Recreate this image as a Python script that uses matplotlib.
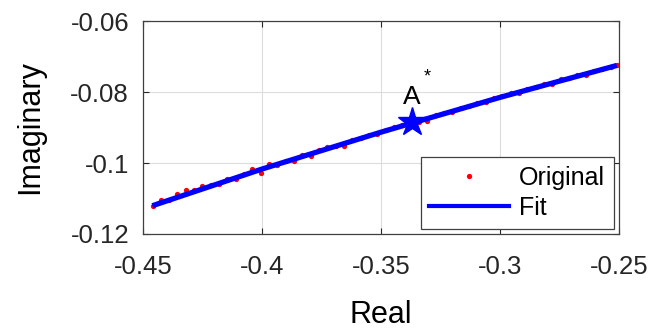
import matplotlib.pyplot as plt

plt.rcParams["font.family"] = ["Liberation Sans", "DejaVu Sans"]
plt.rcParams["axes.unicode_minus"] = False

# fitted curve
fit_x = [-0.445, -0.40, -0.35, -0.30, -0.252]
fit_y = [-0.1118, -0.1017, -0.0913, -0.0815, -0.0727]

# original measured points
orig_x = [-0.446, -0.4425, -0.439, -0.4355, -0.432, -0.4285, -0.425, -0.4215,
          -0.418, -0.4145, -0.411, -0.4075, -0.404, -0.4005, -0.397, -0.3935,
          -0.390, -0.3865, -0.383, -0.3795, -0.376, -0.3725, -0.369, -0.3655,
          -0.362, -0.3585, -0.355, -0.3515, -0.348, -0.3445, -0.341, -0.3375,
          -0.334, -0.3305, -0.327, -0.3235, -0.320, -0.3165, -0.313, -0.3095,
          -0.306, -0.3025, -0.299, -0.2955, -0.292, -0.2885, -0.285, -0.2815,
          -0.278, -0.2745, -0.271, -0.2675, -0.264, -0.2605, -0.257, -0.2535,
          -0.251]
orig_y = [-0.1120, -0.1104, -0.1103, -0.1087, -0.1077, -0.1077, -0.1065, -0.1062,
          -0.1060, -0.1044, -0.1044, -0.1032, -0.1018, -0.1028, -0.1004, -0.1005,
          -0.0995, -0.0994, -0.0977, -0.0980, -0.0964, -0.0954, -0.0951, -0.0951,
          -0.0934, -0.0929, -0.0920, -0.0918, -0.0907, -0.0898, -0.0893, -0.0885,
          -0.0884, -0.0883, -0.0864, -0.0858, -0.0855, -0.0844, -0.0839, -0.0831,
          -0.0828, -0.0818, -0.0811, -0.0803, -0.0804, -0.0792, -0.0786, -0.0778,
          -0.0777, -0.0764, -0.0761, -0.0752, -0.0751, -0.0740, -0.0734, -0.0729,
          -0.0724]

star_x = -0.337
star_y = -0.0885

xticks = [-0.45, -0.4, -0.35, -0.3, -0.25]
xtick_labels = ["-0.45", "-0.4", "-0.35", "-0.3", "-0.25"]
yticks = [-0.12, -0.1, -0.08, -0.06]
ytick_labels = ["-0.12", "-0.1", "-0.08", "-0.06"]

fig = plt.figure(figsize=(6.7, 3.29), dpi=100)
ax = fig.add_axes([0.2134, 0.2888, 0.7106, 0.6472])

ax.plot(orig_x, orig_y, "o", color="red", markersize=3.8, markeredgewidth=0,
        label="Original")
ax.plot(fit_x, fit_y, "-", color="blue", linewidth=3.8, label="Fit")
ax.plot(star_x, star_y, "*", color="blue", markersize=21)

ax.text(star_x, -0.0833, "A", fontsize=19, ha="center", va="baseline")
ax.text(-0.3305, -0.0758, "*", fontsize=13, ha="center", va="center")

ax.set_xlim(-0.45, -0.25)
ax.set_ylim(-0.12, -0.06)
ax.set_xticks(xticks)
ax.set_xticklabels(xtick_labels)
ax.set_yticks(yticks)
ax.set_yticklabels(ytick_labels)
ax.tick_params(direction="in", top=True, right=True, labelsize=18.5,
               colors="#262626", length=4)
ax.tick_params(axis="x", pad=15)
ax.tick_params(axis="y", pad=10)
ax.grid(True, color="#dcdcdc", linewidth=0.8)
ax.set_axisbelow(True)
for s in ax.spines.values():
    s.set_color("#404040")
    s.set_linewidth(0.9)

ax.set_xlabel("Real", fontsize=22, labelpad=15)
ax.set_ylabel("Imaginary", fontsize=22, labelpad=18)

leg = ax.legend(loc="lower right", fontsize=18, fancybox=False,
                edgecolor="#404040", framealpha=1, borderaxespad=0.2,
                handlelength=3.2, borderpad=0.35, labelspacing=0.25,
                handletextpad=0.4)
leg.get_frame().set_linewidth(0.9)
leg.get_lines()[1].set_linewidth(3)

plt.savefig("out.png", dpi=100)
